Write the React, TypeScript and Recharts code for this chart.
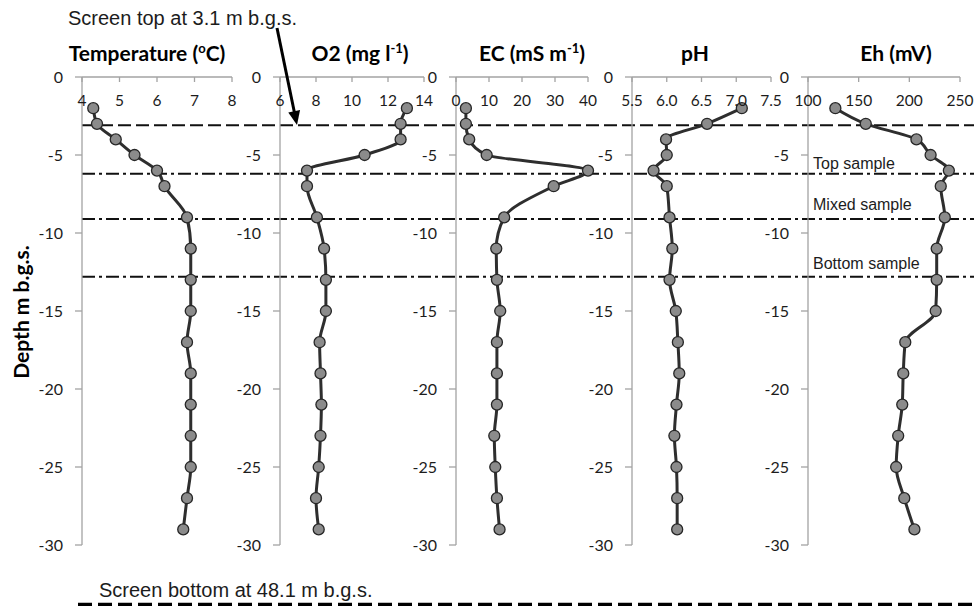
import React from "react";
import {
  ComposedChart,
  ReferenceLine,
  Scatter,
  ScatterChart,
  XAxis,
  YAxis,
} from "recharts";

// sampling depths, m below ground surface
const DEPTHS = [2, 3, 4, 5, 6, 7, 9, 11, 13, 15, 17, 19, 21, 23, 25, 27, 29];

const TEMPERATURE = [4.3, 4.4, 4.9, 5.4, 6.0, 6.2, 6.8, 6.9, 6.9, 6.9, 6.8, 6.9, 6.9, 6.9, 6.9, 6.8, 6.7];
const OXYGEN = [13.05, 12.7, 12.7, 10.7, 7.5, 7.5, 8.05, 8.45, 8.55, 8.55, 8.2, 8.25, 8.3, 8.25, 8.15, 8.0, 8.15];
const CONDUCTIVITY = [3.0, 3.0, 4.0, 9.3, 40.0, 29.6, 14.6, 12.2, 12.4, 13.4, 12.4, 12.4, 12.4, 11.6, 11.9, 12.4, 13.2];
const PH = [7.08, 6.58, 5.99, 6.0, 5.81, 6.0, 6.04, 6.08, 6.04, 6.13, 6.16, 6.18, 6.14, 6.11, 6.14, 6.15, 6.15];
const REDOX = [127, 157, 207, 221, 239, 231, 235, 227, 227, 226, 196, 194, 193, 189, 187, 195, 205];

const DEPTH_TICKS = [0, -5, -10, -15, -20, -25, -30];
const TEMP_TICKS = [4, 5, 6, 7, 8];
const OXYGEN_TICKS = [6, 8, 10, 12, 14];
const EC_TICKS = [0, 10, 20, 30, 40];
const PH_TICKS = [5.5, 6.0, 6.5, 7.0, 7.5];
const EH_TICKS = [100, 150, 200, 250];

const SCREEN_TOP = -3.1;
const SAMPLE_BOUNDS = [-6.2, -9.1, -12.8];
const SAMPLE_NAMES = ["Top sample", "Mixed sample", "Bottom sample"];

const W = 974;
const H = 606;
const PLOT_TOP = 77;
const PLOT_H = 468;
const PAD = 10;
const Y_AXIS_W = 44;
const PAD_R = 20;

const FONT = "Lato, 'Open Sans', sans-serif";
const NOTE_FONT = "'Liberation Sans', Arial, sans-serif";
const AXIS_GREY = "#a3a3a3";
const INK = "#1c1c1c";
const LINE = "#2e2e2e";

type Title = { pre: string; sup?: string; post?: string };

type PanelSpec = {
  key: string;
  title: Title;
  titleX: number;
  values: number[];
  domain: [number, number];
  ticks: number[];
  left: number;
  width: number;
  decimals?: number;
  zoneLabels?: boolean;
};

const PANELS: PanelSpec[] = [
  {
    key: "temp",
    title: { pre: "Temperature (", sup: "o", post: "C)" },
    titleX: 147,
    values: TEMPERATURE,
    domain: [4, 8],
    ticks: TEMP_TICKS,
    left: 82,
    width: 150,
  },
  {
    key: "o2",
    title: { pre: "O2 (mg l", sup: "-1", post: ")" },
    titleX: 360,
    values: OXYGEN,
    domain: [6, 14],
    ticks: OXYGEN_TICKS,
    left: 280,
    width: 144,
  },
  {
    key: "ec",
    title: { pre: "EC (mS m", sup: "-1", post: ")" },
    titleX: 532,
    values: CONDUCTIVITY,
    domain: [0, 40],
    ticks: EC_TICKS,
    left: 456,
    width: 132,
  },
  {
    key: "ph",
    title: { pre: "pH" },
    titleX: 695,
    values: PH,
    domain: [5.5, 7.5],
    ticks: PH_TICKS,
    left: 632,
    width: 139,
    decimals: 1,
  },
  {
    key: "eh",
    title: { pre: "Eh (mV)" },
    titleX: 896,
    values: REDOX,
    domain: [100, 250],
    ticks: EH_TICKS,
    left: 808,
    width: 152,
    zoneLabels: true,
  },
];

const depthTickStyle = { fill: INK, fontSize: 16, fontFamily: FONT };
const valueTickStyle = { fill: INK, fontSize: 15.5, fontFamily: FONT };

function Marker(props: { cx?: number; cy?: number }) {
  if (props.cx == null || props.cy == null) return null;
  return (
    <circle
      cx={props.cx}
      cy={props.cy}
      r={5.5}
      fill="#8b8b8b"
      stroke="#262626"
      strokeWidth={1.3}
    />
  );
}

// lift of each zone caption above its lower boundary line
const ZONE_LIFT = [5, 9, 8];

function Panel({ spec }: { spec: PanelSpec }) {
  const rows = DEPTHS.map((d, i) => ({ depth: -d, value: spec.values[i] }));
  const fmt = (v: number) =>
    spec.decimals != null ? v.toFixed(spec.decimals) : String(v);

  return (
    <div
      style={{
        position: "absolute",
        left: spec.left - Y_AXIS_W,
        top: PLOT_TOP - PAD,
      }}
    >
      <ScatterChart
        width={Y_AXIS_W + spec.width + PAD_R}
        height={PLOT_H + PAD * 2}
        margin={{ top: PAD, right: PAD_R, bottom: PAD, left: 0 }}
      >
        <XAxis
          type="number"
          dataKey="value"
          orientation="top"
          mirror
          domain={spec.domain}
          ticks={spec.ticks}
          interval={0}
          tickFormatter={fmt}
          tickSize={5}
          tickMargin={13}
          axisLine={{ stroke: AXIS_GREY, strokeWidth: 1.3 }}
          tickLine={{ stroke: AXIS_GREY, strokeWidth: 1.3 }}
          tick={valueTickStyle}
        />
        <YAxis
          type="number"
          dataKey="depth"
          domain={[-30, 0]}
          ticks={DEPTH_TICKS}
          interval={0}
          width={Y_AXIS_W}
          tickSize={7}
          tickMargin={12}
          axisLine={{ stroke: AXIS_GREY, strokeWidth: 1.3 }}
          tickLine={{ stroke: AXIS_GREY, strokeWidth: 1.3 }}
          tick={depthTickStyle}
        />
        {spec.zoneLabels &&
          SAMPLE_BOUNDS.map((b, i) => (
            <ReferenceLine
              key={b}
              y={b}
              stroke="none"
              label={(p: any) => (
                <text
                  x={p.viewBox.x + 5}
                  y={p.viewBox.y - ZONE_LIFT[i]}
                  fill={INK}
                  fontSize={16}
                  fontFamily={NOTE_FONT}
                >
                  {SAMPLE_NAMES[i]}
                </text>
              )}
            />
          ))}
        <Scatter
          data={rows}
          line={{ stroke: LINE, strokeWidth: 3 }}
          lineJointType="monotoneY"
          shape={<Marker />}
          isAnimationActive={false}
        />
      </ScatterChart>
    </div>
  );
}

// screen top and sample boundaries run across all five profiles
function DepthLines() {
  const left = PANELS[0].left;
  return (
    <div style={{ position: "absolute", left, top: PLOT_TOP - PAD }}>
      <ComposedChart
        width={W - left}
        height={PLOT_H + PAD * 2}
        margin={{ top: PAD, right: 0, bottom: PAD, left: 0 }}
        data={[{ x: 0, y: 0 }]}
      >
        <XAxis type="number" dataKey="x" hide domain={[0, 1]} />
        <YAxis type="number" dataKey="y" hide domain={[-30, 0]} />
        <ReferenceLine
          y={SCREEN_TOP}
          stroke="#111"
          strokeWidth={2}
          strokeDasharray="13 5"
        />
        {SAMPLE_BOUNDS.map((b) => (
          <ReferenceLine
            key={b}
            y={b}
            stroke="#111"
            strokeWidth={2}
            strokeDasharray="13 4 3 4"
          />
        ))}
      </ComposedChart>
    </div>
  );
}

function PanelTitle({ spec }: { spec: PanelSpec }) {
  const t = spec.title;
  return (
    <text
      x={spec.titleX}
      y={61}
      textAnchor="middle"
      fontSize={21}
      fontWeight={700}
      fontFamily={FONT}
      fill="#000"
    >
      <tspan>{t.pre}</tspan>
      {t.sup && (
        <tspan dy={-8} fontSize={13}>
          {t.sup}
        </tspan>
      )}
      {t.post && <tspan dy={8}>{t.post}</tspan>}
    </text>
  );
}

function Notes() {
  const start = { x: 277, y: 28 };
  const tip = { x: 297, y: 125 };
  const dx = tip.x - start.x;
  const dy = tip.y - start.y;
  const len = Math.hypot(dx, dy);
  const ux = dx / len;
  const uy = dy / len;
  const headLen = 14;
  const headHalf = 6;
  const bx = tip.x - ux * headLen;
  const by = tip.y - uy * headLen;
  const head = [
    `${tip.x},${tip.y}`,
    `${bx + uy * headHalf},${by - ux * headHalf}`,
    `${bx - uy * headHalf},${by + ux * headHalf}`,
  ].join(" ");

  return (
    <svg
      width={W}
      height={H}
      style={{ position: "absolute", left: 0, top: 0, pointerEvents: "none" }}
    >
      <text x={68} y={25} fontSize={20} fontFamily={NOTE_FONT} fill={INK}>
        Screen top at 3.1 m b.g.s.
      </text>
      <line
        x1={start.x}
        y1={start.y}
        x2={bx + ux * 2}
        y2={by + uy * 2}
        stroke="#000"
        strokeWidth={3}
      />
      <polygon points={head} fill="#000" />

      {PANELS.map((p) => (
        <PanelTitle key={p.key} spec={p} />
      ))}

      <text
        x={20}
        y={312}
        transform="rotate(-90 20 312)"
        textAnchor="middle"
        dominantBaseline="central"
        fontSize={21}
        fontWeight={700}
        fontFamily={FONT}
        fill="#000"
      >
        Depth m b.g.s.
      </text>

      <text x={99} y={597} fontSize={20} fontFamily={NOTE_FONT} fill={INK}>
        Screen bottom at 48.1 m b.g.s.
      </text>
      <line
        x1={78}
        y1={604.5}
        x2={W}
        y2={604.5}
        stroke="#000"
        strokeWidth={3.5}
        strokeDasharray="14 6"
      />
    </svg>
  );
}

export default function App() {
  return (
    <div
      style={{
        position: "absolute",
        left: 0,
        top: 0,
        width: W,
        height: H,
        background: "#fff",
        overflow: "hidden",
      }}
    >
      <DepthLines />
      {PANELS.map((p) => (
        <Panel key={p.key} spec={p} />
      ))}
      <Notes />
    </div>
  );
}
